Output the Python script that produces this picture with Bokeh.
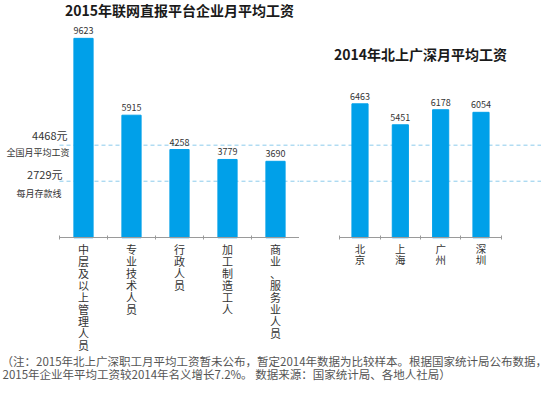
from bokeh.plotting import figure
from bokeh.models import FactorRange, Range1d, LinearAxis, FixedTicker, Span, Label
from bokeh.layouts import row, column
from bokeh.embed import file_html
from bokeh.resources import INLINE
from bokeh.core.properties import value

FONT = "Noto Sans CJK SC"

# ---- data ----
left_title = "2015年联网直报平台企业月平均工资"
left_cats = ["中层及以上管理人员", "专业技术人员", "行政人员", "加工制造工人", "商业、服务业人员"]
left_vals = [9623, 5915, 4258, 3779, 3690]

right_title = "2014年北上广深月平均工资"
right_cats = ["北京", "上海", "广州", "深圳"]
right_vals = [6463, 5451, 6178, 6054]

ref_vals = [4468, 2729]
ref_value_labels = ["4468元", "2729元"]
ref_names = ["全国月平均工资", "每月存款线"]

note_lines = [
    "（注：2015年北上广深职工月平均工资暂未公布，暂定2014年数据为比较样本。根据国家统计局公布数据，",
    "2015年企业年平均工资较2014年名义增长7.2%。 数据来源：国家统计局、各地人社局）",
]

# ---- style / layout ----
Y_START, Y_END = -5537, 11450
FRAME_H = 352
BAR = "#00A0E9"
DASH = "#8ccbec"
AXIS = "#9a9a9a"
TXT = "#333333"
GAP = 11 / 48.0   # extra room (in category widths) left of the first chart for its side notes


def make(xs, vals, names, title, x_range, x0, frame_w, left_border, title_dy, label_px):
    p = figure(
        x_range=x_range, y_range=Range1d(Y_START, Y_END),
        frame_width=frame_w, frame_height=FRAME_H,
        min_border_left=left_border, min_border_right=0, min_border_top=0, min_border_bottom=0,
        x_axis_location=None, y_axis_location=None,
        toolbar_location=None, output_backend="svg",
        outline_line_color=None, background_fill_color="white", border_fill_color="white",
    )
    p.xgrid.visible = False
    p.ygrid.visible = False
    n = len(xs)

    p.vbar(x=xs, top=vals, width=0.4, color=BAR)
    p.text(x=xs, y=vals, text=[str(v) for v in vals], text_align="center",
           text_baseline="bottom", y_offset=-4, text_font=value(FONT),
           text_font_size="9px", text_color=TXT)

    ticks = [x0 + i for i in range(n + 1)]
    tick_axis = LinearAxis(
        ticker=FixedTicker(ticks=ticks), bounds=(x0, x0 + n), fixed_location=0,
        axis_line_color=AXIS, axis_line_width=1,
        major_tick_line_color=AXIS, major_tick_in=2, major_tick_out=2,
        minor_tick_line_color=None,
        major_label_overrides={t: "" for t in ticks},
    )
    p.add_layout(tick_axis, "below")

    # category names written top-to-bottom under the axis
    p.text(x=xs, y=[0] * n, text=["\n".join(c) for c in names], text_align="center",
           text_baseline="top", y_offset=3, text_font=value(FONT), text_font_size=label_px,
           text_line_height=0.75, text_color=TXT)

    p.add_layout(Label(x=x0 + n / 2.0, y=Y_END, y_offset=title_dy, text=title,
                       text_align="center", text_baseline="middle",
                       text_font=FONT, text_font_size="14px", text_font_style="bold",
                       text_color="#1a1a1a"))
    return p


# left chart: a blank leading group gives room for the side notes
left_xs = [("main", c) for c in left_cats]
left_range = FactorRange(factors=[("pad", " ")] + left_xs, group_padding=GAP)
LX0 = 1 + GAP
left = make(left_xs, left_vals, left_cats, left_title, left_range, LX0, 299, 0, -9, "11px")
n_left = len(left_cats)
left.segment(x0=[LX0] * len(ref_vals), y0=ref_vals, x1=[LX0 + n_left] * len(ref_vals),
             y1=ref_vals, line_color=DASH, line_width=1, line_dash="4 3", level="underlay")

right_range = FactorRange(factors=right_cats, range_padding=1.0, range_padding_units="absolute")
right = make(right_cats, right_vals, right_cats, right_title, right_range, 0, 242, 0, -53, "10.5px")
for v in ref_vals:
    right.add_layout(Span(location=v, dimension="width", line_color=DASH, line_width=1,
                          line_dash="4 3", level="underlay"))

# side notes for the two reference lines
val_dx, val_dy = [8, 3], [10, 7]
name_dx, name_dy = [10, 2], [-7, -12]
for i, v in enumerate(ref_vals):
    left.add_layout(Label(x=LX0, y=v, x_offset=val_dx[i], y_offset=val_dy[i],
                          text=ref_value_labels[i], text_align="right", text_baseline="middle",
                          text_font=FONT, text_font_size="11px", text_color=TXT))
    left.add_layout(Label(x=LX0, y=v, x_offset=name_dx[i], y_offset=name_dy[i],
                          text=ref_names[i], text_align="right", text_baseline="middle",
                          text_font=FONT, text_font_size="9px", text_color=TXT))

W = 550
FOOT_H = 38
foot = figure(x_range=Range1d(0, W), y_range=Range1d(FOOT_H, 0), width=W, height=FOOT_H,
              min_border=0, x_axis_location=None, y_axis_location=None,
              toolbar_location=None, output_backend="svg", outline_line_color=None)
foot.xgrid.visible = False
foot.ygrid.visible = False
for i, t in enumerate(note_lines):
    foot.add_layout(Label(x=1 if i == 0 else 2, y=8 + 13 * i, text=t, text_align="left",
                          text_baseline="middle", text_font=FONT, text_font_size="11.5px",
                          text_color="#555555"))

layout = column(row(left, right), foot)
open("out.html", "w").write(file_html(layout, INLINE))
